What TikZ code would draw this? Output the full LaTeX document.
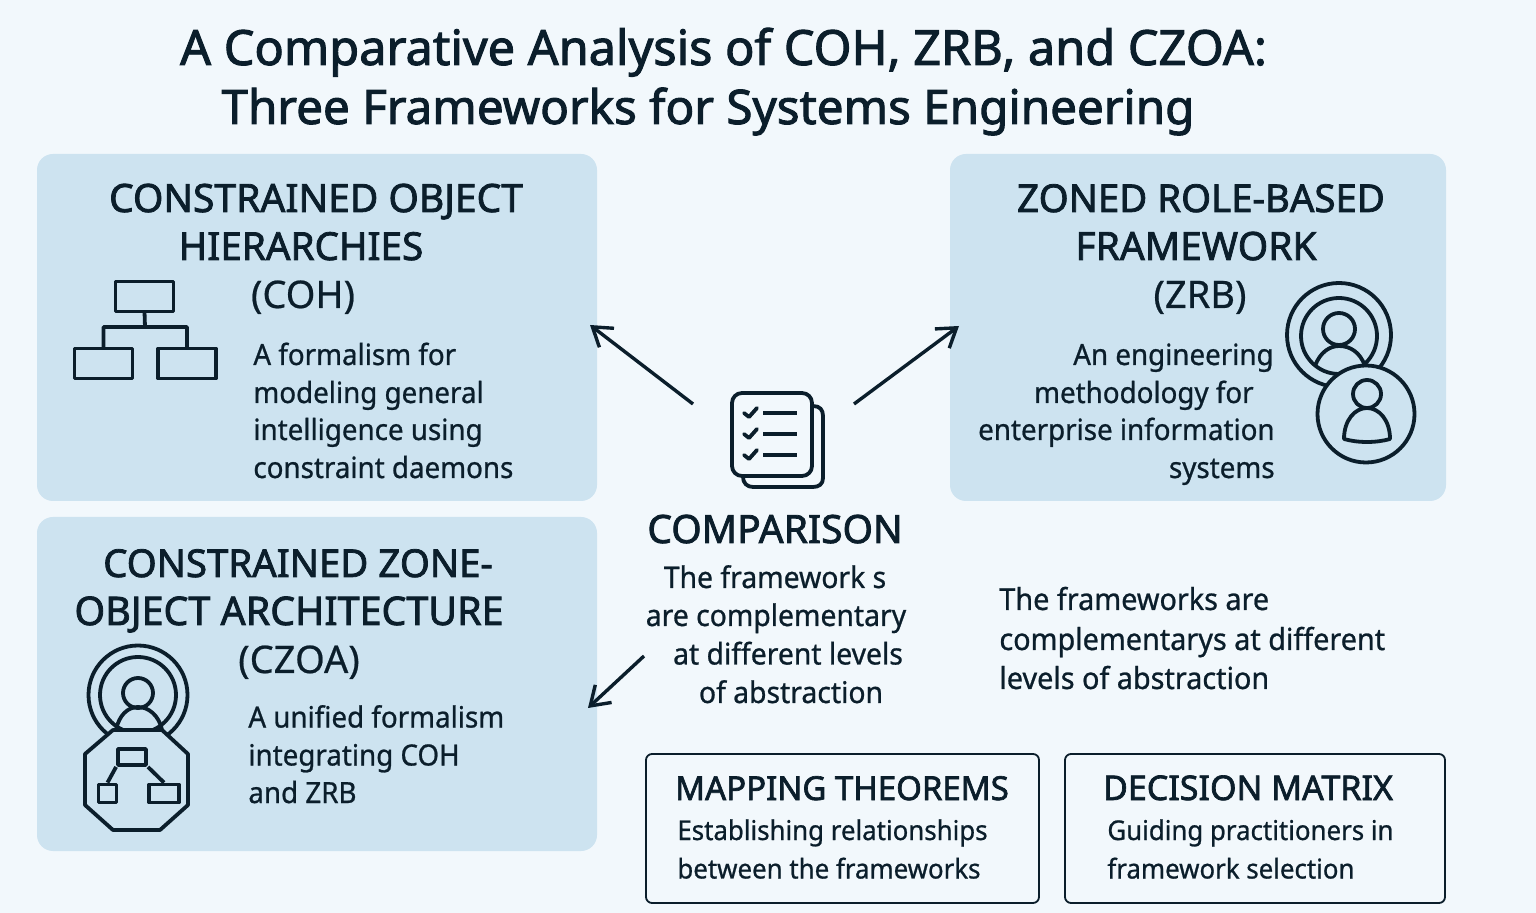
\documentclass[tikz,border=0pt]{standalone}
\usepackage{fontspec}
\setmainfont{Noto Sans}
\newfontfamily\headfont[FakeBold=2.0]{Noto Sans}
\newfontfamily\subfont[FakeBold=0.6]{Noto Sans}
\newfontfamily\bodyfont[FakeStretch=0.95,FakeBold=0.8]{Noto Sans}
\usetikzlibrary{arrows.meta}
\definecolor{ink}{HTML}{0B1E2B}
\definecolor{pagebg}{HTML}{F2F8FC}
\definecolor{panel}{HTML}{CDE3F0}
\newcommand{\headsz}[1]{\headfont\fontsize{#1}{#1}\selectfont}
\tikzset{
  x=0.5pt,y=-0.5pt,
  panelbox/.style={fill=panel,draw=none,rounded corners=8pt},
  outlinebox/.style={draw=ink,line width=0.9pt,rounded corners=3pt,fill=none},
  titletext/.style={anchor=base,inner sep=0,text=ink},
  headtext/.style={anchor=base,inner sep=0,text=ink,font=\headsz{19.5}},
  subtext/.style={anchor=base,inner sep=0,text=ink,font=\subfont\fontsize{19}{19}\selectfont},
  bodytext/.style={anchor=base west,inner sep=0,text=ink,font=\bodyfont\fontsize{14.6}{14.6}\selectfont},
  centertext/.style={anchor=base,inner sep=0,text=ink,font=\bodyfont\fontsize{14.9}{14.9}\selectfont},
  notetext/.style={anchor=base west,inner sep=0,text=ink,font=\bodyfont\fontsize{15.15}{15.15}\selectfont},
  boxtext/.style={anchor=base west,inner sep=0,text=ink,font=\bodyfont\fontsize{13.6}{13.6}\selectfont},
  icon/.style={draw=ink,line width=1.9pt,line join=round},
  iconbox/.style={icon,rectangle,inner sep=0,outer sep=0,minimum width=29pt,minimum height=15pt},
  flowarrow/.style={draw=ink,line width=1.7pt,-{Straight Barb[length=9pt,width=12pt,line width=1.7pt]}},
}
\begin{document}
\begin{tikzpicture}
\path[fill=pagebg,use as bounding box] (0,0) rectangle (1536,913);
% title
\node (t1) [titletext,font=\headsz{24.3}] at (723.5,65) {A Comparative Analysis of COH, ZRB, and CZOA:};
\node (t2) [titletext,font=\headsz{23.8}] at (708,124) {Three Frameworks for Systems Engineering};
% panels
\path[panelbox] (37,154) rectangle (597,501);
\path[panelbox] (950,154) rectangle (1446,501);
\path[panelbox] (37,517) rectangle (597,851);
\draw[outlinebox] (646,754) rectangle (1039,903);
\draw[outlinebox] (1065,754) rectangle (1445,903);
% COH text
\node (c1) [headtext] at (316,212) {CONSTRAINED OBJECT};
\node (c2) [headtext,font=\headsz{19.3}] at (301,260) {HIERARCHIES};
\node (c3) [subtext] at (303,308) {(COH)};
\node (c4) [bodytext] at (253,365) {A formalism for};
\node (c5) [bodytext] at (253,403) {modeling general};
\node (c6) [bodytext] at (253,440) {intelligence using};
\node (c7) [bodytext] at (253,478) {constraint daemons};
% ZRB text
\node (z1) [headtext,font=\headsz{19.2}] at (1201,212) {ZONED ROLE-BASED};
\node (z2) [headtext] at (1196,260) {FRAMEWORK};
\node (z3) [subtext] at (1200,308) {(ZRB)};
\node (z4) [bodytext,anchor=base east] at (1274,365) {An engineering};
\node (z5) [bodytext,anchor=base east] at (1254,403) {methodology for};
\node (z6) [bodytext,anchor=base east] at (1275,440) {enterprise information};
\node (z7) [bodytext,anchor=base east] at (1275,478) {systems};
% CZOA text
\node (o1) [headtext,font=\headsz{19.2}] at (298,577) {CONSTRAINED ZONE-};
\node (o2) [headtext,font=\headsz{19.7}] at (289,625) {OBJECT ARCHITECTURE};
\node (o3) [subtext] at (299,673) {(CZOA)};
\node (o4) [bodytext] at (248,727.5) {A unified formalism};
\node (o5) [bodytext] at (248,765.5) {integrating COH};
\node (o6) [bodytext] at (248,803) {and ZRB};
% centre
\node (m1) [headtext] at (775,543) {COMPARISON};
\node (m2) [centertext] at (775,588) {The framework s};
\node (m3) [centertext] at (776,626) {are complementary};
\node (m4) [centertext] at (788,664.5) {at different levels};
\node (m5) [centertext] at (791,703) {of abstraction};
% right note
\node (n1) [notetext] at (999,610) {The frameworks are};
\node (n2) [notetext] at (999,650) {complementarys at different};
\node (n3) [notetext] at (999,689) {levels of abstraction};
% boxes text
\node (b1) [headtext,font=\headsz{16.5}] at (842,800) {MAPPING THEOREMS};
\node (b2) [boxtext] at (677,840) {Establishing relationships};
\node (b3) [boxtext] at (677,878.5) {between the frameworks};
\node (d1) [headtext,font=\headsz{17}] at (1248,800) {DECISION MATRIX};
\node (d2) [boxtext] at (1107,840) {Guiding practitioners in};
\node (d3) [boxtext] at (1107,878.5) {framework selection};
% arrows
\coordinate (a1s) at (693,404); \coordinate (a1e) at (590,325);
\coordinate (a2s) at (854,404); \coordinate (a2e) at (959,326);
\coordinate (a3s) at (644,656); \coordinate (a3e) at (588,708);
\draw[flowarrow] (a1s) -- (a1e);
\draw[flowarrow] (a2s) -- (a2e);
\draw[flowarrow] (a3s) -- (a3e);
% hierarchy icon
\node (h0) [iconbox] at (144.5,296.5) {};
\node (h1) [iconbox] at (103.5,363.5) {};
\node (h2) [iconbox] at (187,363.5) {};
\draw[icon] (h0.south) -- (145,327) -| (h1.north);
\draw[icon] (145,327) -| (h2.north);
% ZRB people
\draw[icon] (1339,335) circle[radius=52];
\draw[icon] (1339,336) circle[radius=38];
\draw[icon] (1339,329) circle[radius=16];
\draw[icon] (1315,366) .. controls (1320,352) and (1330,346) .. (1339,346) .. controls (1350,346) and (1360,352) .. (1365,366);
\draw[icon,fill=panel] (1366,414) circle[radius=48.5];
\draw[icon] (1367,394) circle[radius=14];
\draw[icon] (1344,439) .. controls (1344,420) and (1355,408) .. (1367,408) .. controls (1379,408) and (1390,420) .. (1390,439) .. controls (1376,443) and (1358,443) .. (1344,439) -- cycle;
% CZOA icon
\draw[icon] (138,695) circle[radius=49.5];
\draw[icon] (138,695) circle[radius=38];
\draw[icon] (138,693) circle[radius=15];
\draw[icon] (116,730) .. controls (119,715) and (128,707) .. (138,707) .. controls (148,707) and (159,715) .. (162,730);
\draw[icon,fill=panel] (113,730) -- (162,730) -- (188,754) -- (188,805) -- (160,830) -- (113,830) -- (85,805) -- (85,754) -- cycle;
\node (q0) [icon,rectangle,inner sep=0,minimum width=14pt,minimum height=8pt] at (132,757) {};
\node (q1) [icon,rectangle,inner sep=0,minimum width=9pt,minimum height=9pt] at (107.5,793.5) {};
\node (q2) [icon,rectangle,inner sep=0,minimum width=15pt,minimum height=9pt] at (164,793.5) {};
\draw[icon] (q0.south west) -- (q1.north);
\draw[icon] (q0.south east) -- (q2.north);
% checklist icon
\draw[icon] (813,406) .. controls (820,406) and (823,410) .. (823,416) -- (823,478) .. controls (823,484) and (819,487) .. (813,487) -- (753,487) .. controls (747,487) and (743,483) .. (743,477);
\draw[icon,rounded corners=5pt] (732,393) rectangle (812,476);
\foreach \yy in {413,434,455}{
  \draw[icon,line cap=round] (744,\yy) -- (749,\yy+4) -- (757,\yy-5);
  \draw[icon] (763,\yy) -- (797,\yy);
}
\end{tikzpicture}
\end{document}
